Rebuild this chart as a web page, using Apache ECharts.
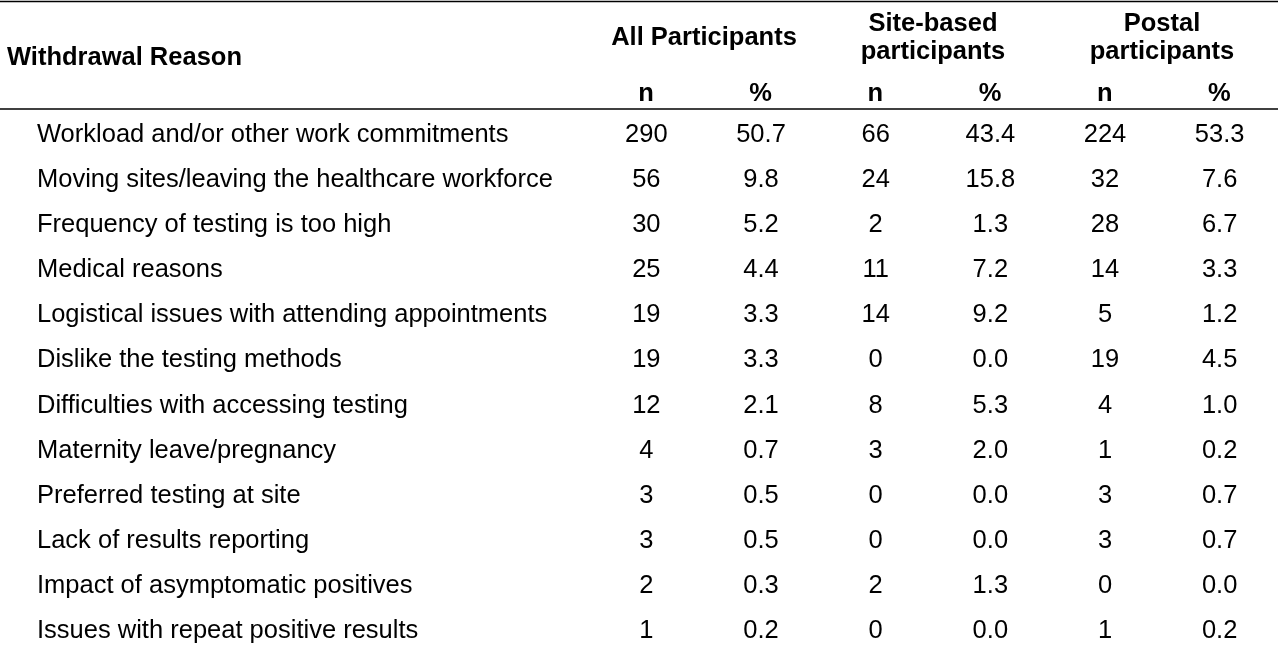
<!DOCTYPE html>
<html>
<head>
<meta charset="utf-8">
<script src="https://cdn.jsdelivr.net/npm/echarts@6/dist/echarts.min.js"></script>
<style>html,body{margin:0;padding:0;background:#fff}#main{width:1280px;height:646px}</style>
</head>
<body>
<div id="main"></div>
<script>
// 表格数据
var reasons = ['Workload and/or other work commitments', 'Moving sites/leaving the healthcare workforce',
    'Frequency of testing is too high', 'Medical reasons', 'Logistical issues with attending appointments',
    'Dislike the testing methods', 'Difficulties with accessing testing', 'Maternity leave/pregnancy',
    'Preferred testing at site', 'Lack of results reporting', 'Impact of asymptomatic positives',
    'Issues with repeat positive results'];
var allN = [290, 56, 30, 25, 19, 19, 12, 4, 3, 3, 2, 1];
var allPct = ['50.7', '9.8', '5.2', '4.4', '3.3', '3.3', '2.1', '0.7', '0.5', '0.5', '0.3', '0.2'];
var siteN = [66, 24, 2, 11, 14, 0, 8, 3, 0, 0, 2, 0];
var sitePct = ['43.4', '15.8', '1.3', '7.2', '9.2', '0.0', '5.3', '2.0', '0.0', '0.0', '1.3', '0.0'];
var postN = [224, 32, 28, 14, 5, 19, 4, 1, 3, 3, 0, 1];
var postPct = ['53.3', '7.6', '6.7', '3.3', '1.2', '4.5', '1.0', '0.2', '0.7', '0.7', '0.0', '0.2'];
var columns = ['n', '%', 'n', '%', 'n', '%'];

var cols = [allN, allPct, siteN, sitePct, postN, postPct];
var cells = [];
for (var c = 0; c < cols.length; c++) {
    for (var r = 0; r < reasons.length; r++) {
        cells.push([c, r, String(cols[c][r])]);
    }
}

var FONT = 'Arial, "Liberation Sans", sans-serif';
var FS = 25.5;
var myChart = echarts.init(document.getElementById('main'));
var option = {
    animation: false,
    grid: { left: 589, top: 135, width: 688, height: 496 },
    xAxis: {
        type: 'category', data: columns, position: 'top',
        axisLine: { show: false }, axisTick: { show: false },
        axisLabel: { show: false }, splitLine: { show: false }
    },
    yAxis: {
        type: 'category', data: reasons, inverse: true, boundaryGap: false,
        axisLine: { show: false }, axisTick: { show: false }, splitLine: { show: false },
        axisLabel: { align: 'left', margin: 552, fontSize: FS, color: '#000', fontFamily: FONT }
    },
    series: [{
        type: 'custom',
        clip: false,
        data: cells,
        renderItem: function (params, api) {
            var p = api.coord([api.value(0), api.value(1)]);
            return {
                type: 'text',
                style: {
                    x: p[0], y: p[1], text: cells[params.dataIndex][2],
                    fontSize: FS, fontFamily: FONT, fill: '#000',
                    align: 'center', verticalAlign: 'middle'
                }
            };
        }
    }],
    graphic: [
        { type: 'line', shape: { x1: 0, y1: 1.5, x2: 1278, y2: 1.5 }, style: { stroke: '#000', lineWidth: 1.5 } },
        { type: 'line', shape: { x1: 0, y1: 109, x2: 1278, y2: 109 }, style: { stroke: '#000', lineWidth: 1.5 } },
        { type: 'text', x: 7, y: 58, style: { text: 'Withdrawal Reason', font: 'bold ' + FS + 'px ' + FONT, fill: '#000', verticalAlign: 'middle' } },
        { type: 'text', x: 704, y: 38, style: { text: 'All Participants', font: 'bold ' + FS + 'px ' + FONT, fill: '#000', align: 'center', verticalAlign: 'middle' } },
        { type: 'text', x: 933, y: 38, style: { text: 'Site-based\nparticipants', font: 'bold ' + FS + 'px ' + FONT, lineHeight: 28, fill: '#000', align: 'center', verticalAlign: 'middle' } },
        { type: 'text', x: 1162, y: 38, style: { text: 'Postal\nparticipants', font: 'bold ' + FS + 'px ' + FONT, lineHeight: 28, fill: '#000', align: 'center', verticalAlign: 'middle' } }
    ].concat(columns.map(function (t, i) {
        return { type: 'text', x: 646 + i * 114.67, y: 94, style: { text: t, font: 'bold ' + FS + 'px ' + FONT, fill: '#000', align: 'center', verticalAlign: 'middle' } };
    }))
};
myChart.setOption(option);
</script>
</body>
</html>
